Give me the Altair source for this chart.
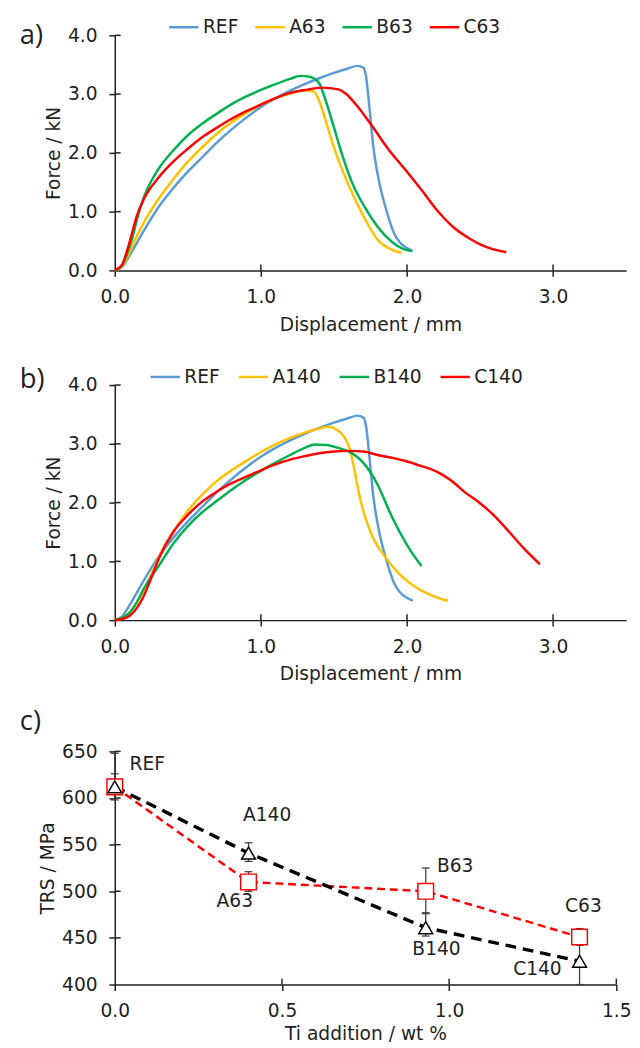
import altair as alt
import pandas as pd

FONT = "DejaVu Sans"
LABEL_FONT = "Open Sans"
INK = "#1f1f1f"
FS = 19
TICK = 6

# ---------------- panel a / b : force-displacement curves ----------------
ref_x = [0, 0.05, 0.1, 0.2, 0.3, 0.4, 0.5, 0.6, 0.7, 0.8, 0.9, 1.0, 1.1, 1.2, 1.3, 1.4, 1.5, 1.6,
         1.66, 1.70, 1.72, 1.74, 1.77, 1.81, 1.85, 1.88, 1.91, 1.95, 2.0, 2.04]
ref_y = [0, 0.06, 0.25, 0.68, 1.08, 1.40, 1.68, 1.93, 2.18, 2.40, 2.60, 2.78, 2.93, 3.06, 3.17, 3.27, 3.36, 3.44,
         3.48, 3.45, 3.30, 2.85, 2.10, 1.50, 1.10, 0.85, 0.64, 0.48, 0.38, 0.33]

a63_x = [0, 0.05, 0.1, 0.15, 0.2, 0.3, 0.4, 0.5, 0.6, 0.7, 0.8, 0.9, 1.0, 1.1, 1.2, 1.3, 1.36, 1.40,
         1.44, 1.48, 1.52, 1.58, 1.65, 1.72, 1.80, 1.88, 1.96]
a63_y = [0, 0.07, 0.30, 0.58, 0.82, 1.22, 1.55, 1.85, 2.10, 2.33, 2.52, 2.68, 2.82, 2.93, 3.01, 3.06, 3.05, 2.88,
         2.58, 2.25, 1.95, 1.57, 1.18, 0.84, 0.52, 0.37, 0.30]

b63_x = [0, 0.05, 0.08, 0.12, 0.15, 0.2, 0.3, 0.4, 0.5, 0.6, 0.7, 0.8, 0.9, 1.0, 1.1, 1.2, 1.27, 1.34,
         1.40, 1.44, 1.49, 1.555, 1.62, 1.71, 1.80, 1.90, 1.97, 2.03]
b63_y = [0, 0.08, 0.25, 0.55, 0.85, 1.25, 1.73, 2.04, 2.30, 2.50, 2.67, 2.83, 2.96, 3.07, 3.17, 3.26, 3.31, 3.29,
         3.18, 2.92, 2.52, 1.98, 1.52, 1.08, 0.74, 0.48, 0.37, 0.33]

c63_x = [0, 0.05, 0.08, 0.12, 0.15, 0.2, 0.3, 0.4, 0.5, 0.6, 0.7, 0.8, 0.9, 1.0, 1.1, 1.2, 1.3, 1.42,
         1.53, 1.58, 1.645, 1.76, 1.87, 2.0, 2.1, 2.21, 2.32, 2.43, 2.54, 2.68]
c63_y = [0, 0.10, 0.30, 0.65, 0.92, 1.22, 1.58, 1.85, 2.07, 2.27, 2.43, 2.58, 2.71, 2.82, 2.93, 3.02, 3.07, 3.11,
         3.08, 3.01, 2.84, 2.46, 2.07, 1.68, 1.37, 1.01, 0.73, 0.54, 0.40, 0.31]

a140_x = [0, 0.05, 0.1, 0.15, 0.2, 0.25, 0.3, 0.4, 0.5, 0.6, 0.7, 0.8, 0.9, 1.0, 1.1, 1.2, 1.3, 1.4,
          1.46, 1.52, 1.57, 1.61, 1.64, 1.68, 1.75, 1.84, 1.95, 2.08, 2.18, 2.28]
a140_y = [0, 0.04, 0.13, 0.30, 0.52, 0.78, 1.06, 1.50, 1.86, 2.14, 2.37, 2.55, 2.71, 2.86, 2.99, 3.10, 3.19, 3.26,
          3.29, 3.24, 3.12, 2.90, 2.56, 2.06, 1.50, 1.11, 0.78, 0.53, 0.41, 0.33]

b140_x = [0, 0.05, 0.1, 0.15, 0.2, 0.25, 0.3, 0.4, 0.5, 0.6, 0.7, 0.8, 0.9, 1.0, 1.1, 1.2, 1.3, 1.37,
          1.45, 1.53, 1.6, 1.7, 1.8, 1.88, 1.95, 2.02, 2.1]
b140_y = [0, 0.04, 0.12, 0.30, 0.54, 0.74, 0.92, 1.30, 1.60, 1.84, 2.03, 2.22, 2.39, 2.54, 2.68, 2.81, 2.93, 2.99,
          2.98, 2.93, 2.87, 2.68, 2.30, 1.85, 1.50, 1.20, 0.92]

c140_x = [0, 0.05, 0.1, 0.15, 0.2, 0.25, 0.3, 0.4, 0.5, 0.6, 0.7, 0.8, 0.9, 1.0, 1.1, 1.2, 1.3, 1.4,
          1.5, 1.6, 1.7, 1.8, 1.9, 2.0, 2.1, 2.2, 2.3, 2.4, 2.5, 2.6, 2.7, 2.8, 2.91]
c140_y = [0, 0.02, 0.07, 0.20, 0.42, 0.72, 1.04, 1.50, 1.79, 2.02, 2.19, 2.33, 2.44, 2.55, 2.65, 2.73, 2.79, 2.84,
          2.87, 2.88, 2.87, 2.81, 2.76, 2.70, 2.62, 2.53, 2.38, 2.17, 1.99, 1.77, 1.50, 1.22, 0.95]

names_a = ["REF", "A63", "B63", "C63"]
names_b = ["REF", "A140", "B140", "C140"]
disp_ticks = [0, 1, 2, 3]
force_ticks = [0, 1, 2, 3, 4]

# ---------------- panel c : TRS vs Ti addition ----------------
ti = [0, 0.4, 0.93, 1.39]
lab63 = ["REF", "A63", "B63", "C63"]
trs63 = [612, 510, 500, 451]
lo63 = [598, 500, 477, 442]
hi63 = [626, 521, 525, 460]
lab140 = ["REF", "A140", "B140", "C140"]
trs140 = [612, 541, 461, 425]
lo140 = [612, 532, 452, 400]
hi140 = [648, 552, 476, 450]
ti_ticks = [0, 0.5, 1.0, 1.5]
trs_ticks = [400, 450, 500, 550, 600, 650]

COLORS = ["#5B9BD5", "#FFC000", "#00B050", "#FF0000"]


def long_df(names, xs_list, ys_list):
    rows = []
    for name, xs, ys in zip(names, xs_list, ys_list):
        for i, (x, y) in enumerate(zip(xs, ys)):
            rows.append({"series": name, "disp": x, "force": y, "i": i})
    return pd.DataFrame(rows)


def panel_label(text, dx, dy):
    return alt.Chart(pd.DataFrame({"t": [text]})).mark_text(
        align="left", baseline="middle", fontSize=28, font=LABEL_FONT, color=INK
    ).encode(text="t:N", x=alt.value(dx), y=alt.value(dy))


def inner_ticks(xfield, xvals, yfield, yvals, height):
    """Short inward tick stubs so that the ticks cross the axis lines."""
    xt = alt.Chart(pd.DataFrame({xfield: xvals})).mark_rule(color=INK, strokeWidth=1.5).encode(
        x=alt.X(f"{xfield}:Q"), y=alt.value(height - TICK), y2=alt.value(height))
    yt = alt.Chart(pd.DataFrame({yfield: yvals})).mark_rule(color=INK, strokeWidth=1.5).encode(
        y=alt.Y(f"{yfield}:Q"), x=alt.value(0), x2=alt.value(TICK))
    return [xt, yt]


XAX = dict(labelPadding=12, titlePadding=9)


def curve_panel(names, xs_list, ys_list, label, label_dy, leg_x, col_pad):
    df = long_df(names, xs_list, ys_list)
    lines = alt.Chart(df).mark_line(strokeWidth=2.5, interpolate="monotone").encode(
        x=alt.X("disp:Q", scale=alt.Scale(domain=[0, 3.5], nice=False),
                axis=alt.Axis(values=disp_ticks, format=".1f", title="Displacement / mm", **XAX)),
        y=alt.Y("force:Q", scale=alt.Scale(domain=[0, 4], nice=False),
                axis=alt.Axis(values=force_ticks, format=".1f", title="Force / kN")),
        color=alt.Color("series:N", scale=alt.Scale(domain=names, range=COLORS),
                        legend=alt.Legend(orient="none", legendX=leg_x, legendY=-25, direction="horizontal",
                                          columns=4, title=None, symbolType="stroke", symbolSize=900,
                                          symbolStrokeWidth=2.5, labelOffset=3, columnPadding=col_pad,
                                          labelFontSize=FS, labelFont=FONT, labelColor=INK)),
        order="i:Q",
    )
    return alt.layer(lines, *inner_ticks("disp", disp_ticks[1:], "force", force_ticks[1:], 240),
                     panel_label(label, -97, label_dy)).properties(width=522, height=240)


panel_a = curve_panel(names_a, [ref_x, a63_x, b63_x, c63_x], [ref_y, a63_y, b63_y, c63_y], "a)", 1, 54, 11)
panel_b = curve_panel(names_b, [ref_x, a140_x, b140_x, c140_x], [ref_y, a140_y, b140_y, c140_y], "b)", -5, 35, 13)

df63 = pd.DataFrame({"ti": ti, "trs": trs63, "lo": lo63, "hi": hi63, "name": lab63})
df140 = pd.DataFrame({"ti": ti, "trs": trs140, "lo": lo140, "hi": hi140, "name": lab140})

xc = alt.X("ti:Q", scale=alt.Scale(domain=[0, 1.5], nice=False),
           axis=alt.Axis(values=ti_ticks, format=".1f", title="Ti addition / wt %", labelPadding=12, titlePadding=4))
yc = alt.Y("trs:Q", scale=alt.Scale(domain=[400, 650], nice=False),
           axis=alt.Axis(values=trs_ticks, format="d", title="TRS / MPa"))

red_line = alt.Chart(df63).mark_line(color="#FF0000", strokeWidth=2.5, strokeDash=[8, 5]).encode(x=xc, y=yc)
black_line = alt.Chart(df140).mark_line(color="#000000", strokeWidth=3.5, strokeDash=[11, 7]).encode(x=xc, y=yc)

ERR = "#404040"


def err_layers(df):
    rule = alt.Chart(df).mark_rule(color=ERR, strokeWidth=1.3).encode(
        x="ti:Q", y="lo:Q", y2="hi:Q")
    cap_lo = alt.Chart(df).mark_point(shape="stroke", size=64, stroke=ERR, strokeWidth=1.3, opacity=1).encode(
        x="ti:Q", y="lo:Q")
    cap_hi = alt.Chart(df).mark_point(shape="stroke", size=64, stroke=ERR, strokeWidth=1.3, opacity=1).encode(
        x="ti:Q", y="hi:Q")
    return [rule, cap_lo, cap_hi]


squares = alt.Chart(df63).mark_point(shape="square", size=256, filled=True, fill="white", stroke="#FF0000",
                                     strokeWidth=1.5, opacity=1).encode(x="ti:Q", y="trs:Q")
triangles = alt.Chart(df140).mark_point(shape="triangle-up", size=200, filled=True, fill="white",
                                        stroke="#000000", strokeWidth=1.5, opacity=1).encode(x="ti:Q", y="trs:Q")

# label offsets (pixels) relative to each point
off63 = {"REF": (15, -23, "left"), "A63": (-14, 20, "center"), "B63": (30, -26, "center"), "C63": (4, -32, "center")}
off140 = {"A140": (19, -39, "center"), "B140": (11, 22, "center"), "C140": (-43, 8, "center")}

text_layers = []
for df, offs in ((df63, off63), (df140, off140)):
    for name, (dx, dy, al) in offs.items():
        text_layers.append(
            alt.Chart(df).transform_filter(alt.datum.name == name).mark_text(
                align=al, baseline="middle", dx=dx, dy=dy, fontSize=FS, font=FONT, color=INK
            ).encode(x="ti:Q", y="trs:Q", text="name:N")
        )

C_H = 238
panel_c = alt.layer(
    red_line, black_line, *err_layers(df63), *err_layers(df140), squares, triangles, *text_layers,
    *inner_ticks("ti", ti_ticks[1:], "trs", trs_ticks[1:], C_H),
    panel_label("c)", -97, -30)
).properties(width=512, height=C_H)

top = alt.vconcat(panel_a, panel_b, spacing=27).resolve_scale(color="independent", x="independent", y="independent")
chart = alt.vconcat(top, panel_c, spacing=25).resolve_scale(
    color="independent", x="independent", y="independent"
).properties(
    padding={"left": 12, "top": -8, "right": 0, "bottom": 0}
).configure_axis(
    grid=False, domainColor=INK, tickColor=INK, domainWidth=1.5, tickWidth=1.5, tickSize=TICK,
    labelFont=FONT, labelFontSize=FS, labelColor=INK, labelPadding=12, labelFlush=False,
    titleFont=FONT, titleFontSize=FS, titleFontWeight="normal", titleColor=INK, titlePadding=6,
).configure_axisY(labelPadding=12, titlePadding=4).configure_view(stroke=None)

chart.save("out.html", embed_options={"renderer": "svg", "actions": False})
